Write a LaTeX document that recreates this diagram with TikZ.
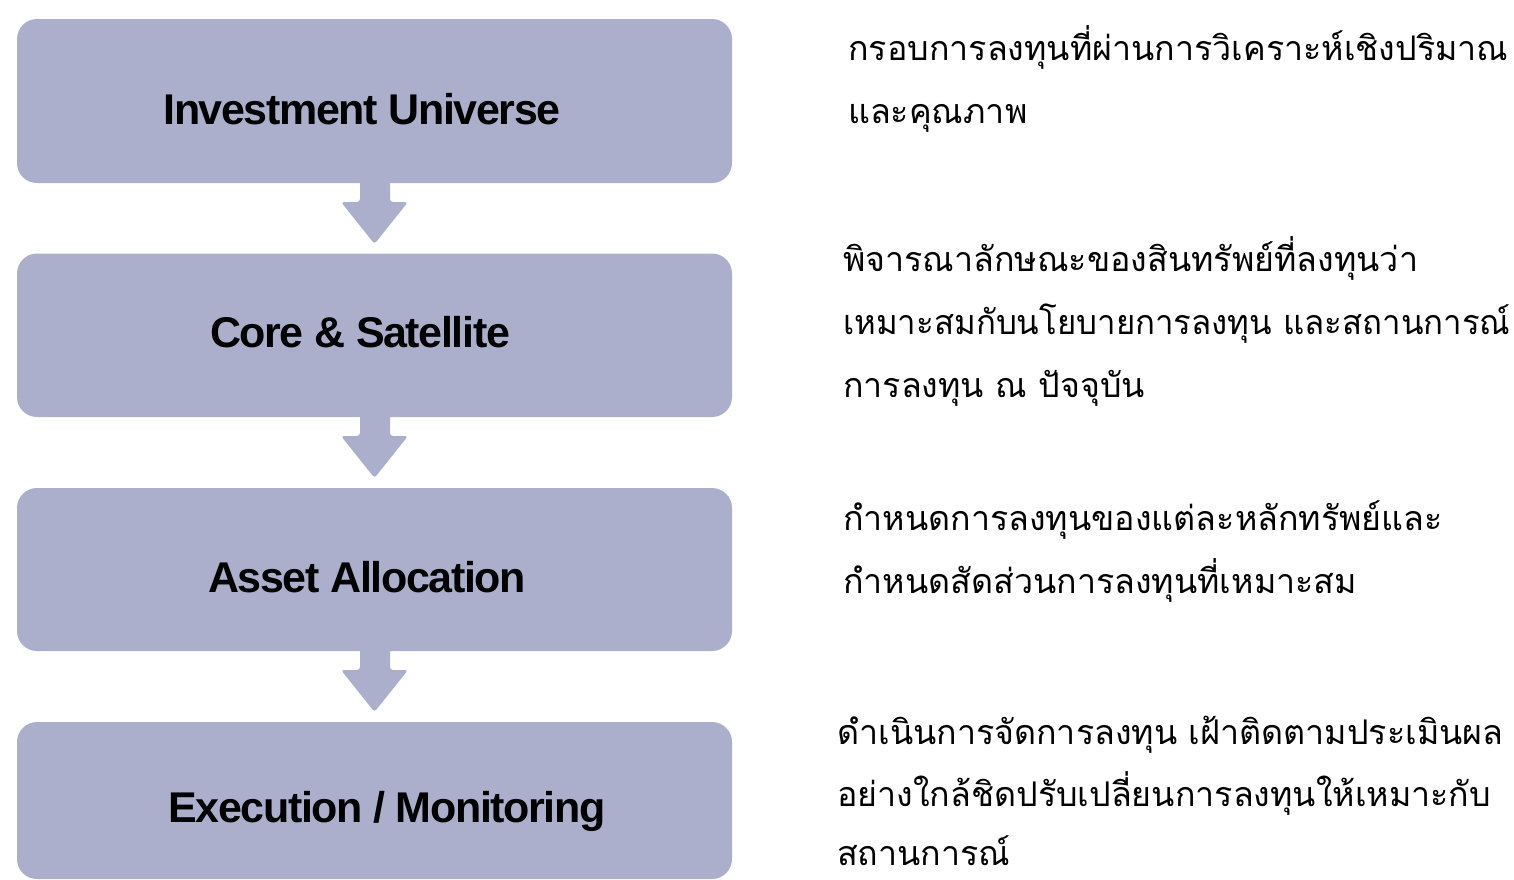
\documentclass[tikz,border=0pt]{standalone}
\usepackage{fontspec}
\newfontfamily\thaifont[Script=Thai]{Loma}
\newfontfamily\labelfont[LetterSpace=-3.2]{Liberation Sans}
\definecolor{boxfill}{HTML}{ABAFCC}
\tikzset{
  stagebox/.style={fill=boxfill, rounded corners=20pt},
  downarrow/.style={fill=boxfill, rounded corners=3pt},
  stagelabel/.style={anchor=base, inner sep=0pt, font=\labelfont\bfseries\fontsize{43}{50}\selectfont, text=black},
  desc/.style={anchor=base west, inner sep=0pt, font=\thaifont\fontsize{34}{40}\selectfont, text=black}
}
\begin{document}
\begin{tikzpicture}[x=1pt,y=-1pt]
\useasboundingbox (0,0) rectangle (1514,879);
% boxes
\foreach \i/\t/\b in {1/19/183, 2/253.5/417, 3/488/651, 4/722/879}{
  \path[stagebox] (17,\t) rectangle (732,\b);
}
% arrows
\foreach \t/\m/\e in {183/202/244, 417/436/478, 651/670/712}{
  \path[downarrow] (360,\t-6) -- (390,\t-6) -- (390,\m) -- (408,\m) -- (374.5,\e) -- (341,\m) -- (360,\m) -- cycle;
}
% labels
\node[stagelabel] (l1) at (362,124) {Investment Universe};
\node[stagelabel] (l2) at (360,347) {Core \& Satellite};
\node[stagelabel] (l3) at (367,592) {Asset Allocation};
\node[stagelabel] (l4) at (387,822) {Execution / Monitoring};
% descriptions
\node[desc] (d1a) at (848,60) {กรอบการลงทุนที่ผ่านการวิเคราะห์เชิงปริมาณ};
\node[desc] (d1b) at (848,123) {และคุณภาพ};
\node[desc] (d2a) at (843,271) {พิจารณาลักษณะของสินทรัพย์ที่ลงทุนว่า};
\node[desc] (d2b) at (843,334) {\scalebox{0.97}[1]{เหมาะสมกับนโยบายการลงทุน และสถานการณ์}};
\node[desc] (d2c) at (843,397) {การลงทุน ณ ปัจจุบัน};
\node[desc] (d3a) at (843,530) {กำหนดการลงทุนของแต่ละหลักทรัพย์และ};
\node[desc] (d3b) at (843,593) {กำหนดสัดส่วนการลงทุนที่เหมาะสม};
\node[desc] (d4a) at (837,744) {ดำเนินการจัดการลงทุน เฝ้าติดตามประเมินผล};
\node[desc] (d4b) at (837,806) {อย่างใกล้ชิดปรับเปลี่ยนการลงทุนให้เหมาะกับ};
\node[desc] (d4c) at (837,865) {สถานการณ์};
\end{tikzpicture}
\end{document}
